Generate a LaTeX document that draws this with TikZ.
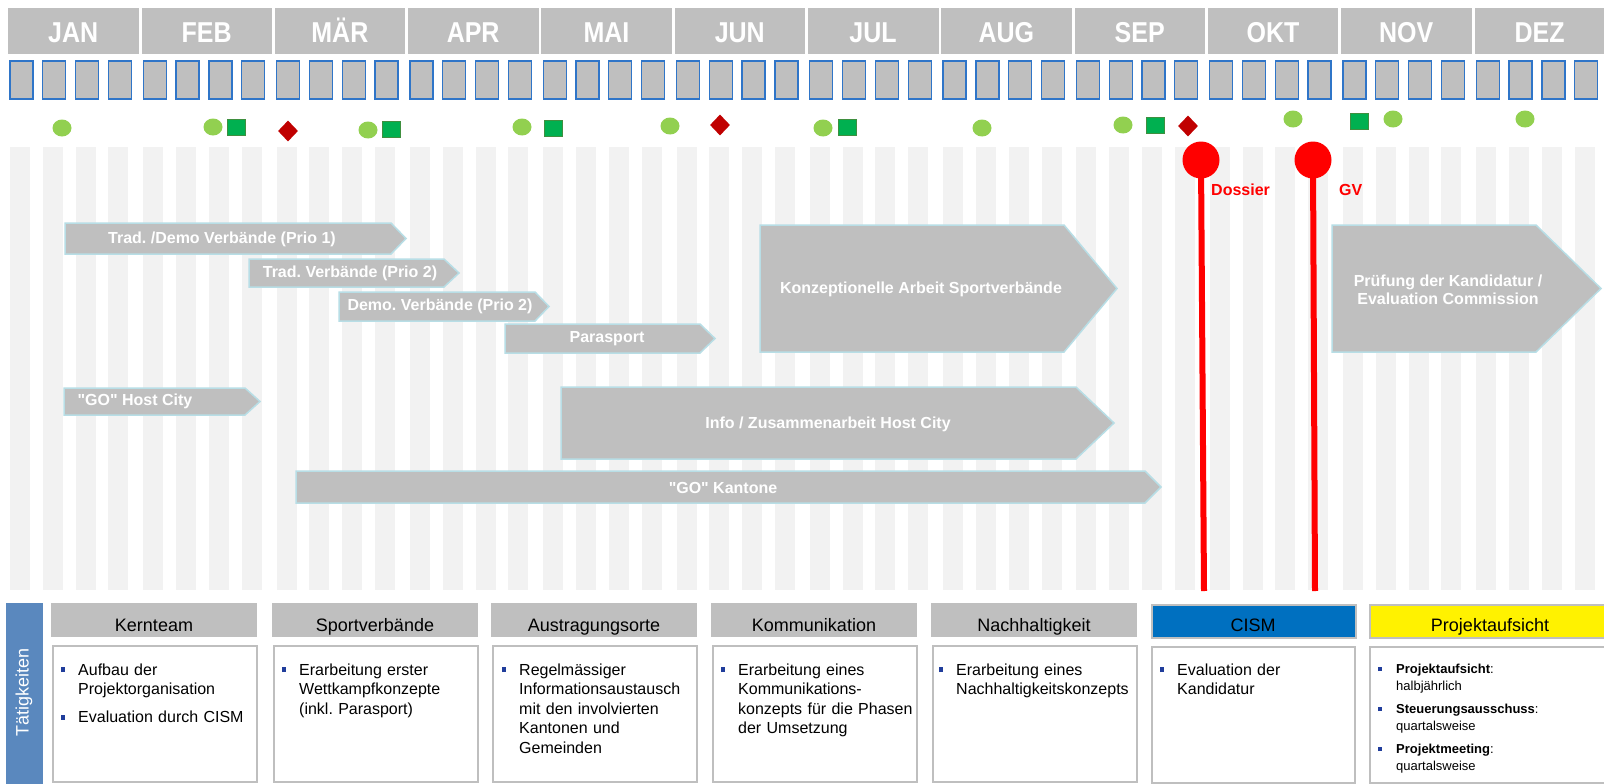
\documentclass[tikz,border=0pt]{standalone}
\usepackage{fontspec}
\setmainfont{Liberation Sans}[Ligatures=TeXOff]
\usepackage{graphicx}
\usetikzlibrary{shapes.geometric}
\frenchspacing
\definecolor{hdrgrey}{HTML}{BFBFBF}
\definecolor{weekblue}{HTML}{2F75C8}
\definecolor{stripegrey}{HTML}{F2F2F2}
\definecolor{barline}{HTML}{B8DEE6}
\definecolor{greenc}{HTML}{92D050}
\definecolor{greens}{HTML}{00B050}
\definecolor{greensd}{HTML}{3F8F3F}
\definecolor{redd}{HTML}{C00000}
\definecolor{pinred}{HTML}{FF0000}
\definecolor{cismblue}{HTML}{0070C0}
\definecolor{tblue}{HTML}{5A88BE}
\definecolor{bulblue}{HTML}{203D9B}
\newcommand{\bl}{\leavevmode\llap{\makebox[17pt][l]{\textcolor{bulblue}{\rule[3pt]{4pt}{5pt}}}}}
\newcommand{\bls}{\leavevmode\llap{\makebox[18pt][l]{\textcolor{bulblue}{\rule[2pt]{3.5pt}{4pt}}}}}
\newcommand{\fstrut}{\rule{0pt}{12pt}}
\newcommand{\ganttbar}[5]{\draw[gbar] (#1,#4) -- (#2,#4) -- (#3,{(#4+#5)/2}) -- (#2,#5) -- (#1,#5) -- cycle;}
\tikzset{
 monthbox/.style={fill=hdrgrey, inner sep=0, minimum height=46, minimum width=130.5, anchor=north west},
 monthtxt/.style={text=white, font=\bfseries\fontsize{25}{25}\selectfont, anchor=base, inner sep=0},
 weekbox/.style={draw=weekblue, fill=hdrgrey, line width=1.3},
 stripe/.style={fill=stripegrey},
 gbar/.style={fill=hdrgrey, draw=barline, line width=1.5},
 bartxt/.style={text=white, font=\bfseries\fontsize{16}{18}\selectfont, inner sep=0, align=center},
 gdot/.style={ellipse, fill=greenc, minimum width=19, minimum height=17, inner sep=0},
 gsq/.style={rectangle, fill=greens, draw=greensd, line width=0.8, minimum width=18, minimum height=16, inner sep=0},
 rdia/.style={diamond, fill=redd, minimum width=20, minimum height=21, inner sep=0},
 pinline/.style={draw=pinred, line width=6},
 pinhead/.style={circle, fill=pinred, minimum size=37, inner sep=0},
 pinlabel/.style={text=pinred, font=\bfseries\fontsize{16}{16}\selectfont, anchor=base west, inner sep=0},
 colhead/.style={fill=hdrgrey, minimum width=206, minimum height=34, anchor=north west, inner sep=0},
 headtxt/.style={font=\fontsize{18}{18}\selectfont, anchor=base, inner sep=0},
 colbody/.style={draw=hdrgrey, line width=2, fill=white, minimum width=204, minimum height=136, anchor=north west, inner sep=0},
 bodytxt/.style={font=\fontsize{16}{19.5}\selectfont, anchor=north west, inner sep=0, text width=200, align=left},
 smalltxt/.style={font=\fontsize{13}{17}\selectfont, anchor=north west, inner sep=0, text width=220, align=left},
}
\begin{document}
\begin{tikzpicture}[x=1pt,y=-1pt]
\useasboundingbox (0,0) rectangle (1604,784);
\fill[white] (0,0) rectangle (1604,784);
% stripes and weeks
\foreach \m in {0,...,11}{
  \foreach \w in {0,...,3}{
    \pgfmathsetmacro\wx{8+\m*133.3+2+\w*32.8}
    \fill[stripe] (\wx,147) rectangle ++(20,443);
    \draw[weekbox] (\wx,61) rectangle ++(23,38);
  }
}
% months
\foreach \m/\nm in {0/JAN,1/FEB,2/MÄR,3/APR,4/MAI,5/JUN,6/JUL,7/AUG,8/SEP,9/OKT,10/NOV,11/DEZ}{
  \pgfmathsetmacro\mx{8+\m*133.3}
  \node[monthbox] (mon\m) at (\mx,8) {};
  \node[monthtxt] (mt\m) at (\mx+65.25,42.7) {\scalebox{1}[1.15]{\nm}};
}
% markers
\node[gdot] (c1) at (62,128) {};
\node[gdot] (c2) at (213,127) {};
\node[gsq] (s1) at (236,127) {};
\node[rdia] (d1) at (288,131) {};
\node[gdot] (c3) at (368,130) {};
\node[gsq] (s2) at (391,129) {};
\node[gdot] (c4) at (522,127) {};
\node[gsq] (s3) at (553,128) {};
\node[gdot] (c5) at (670,126) {};
\node[rdia] (d2) at (720,125) {};
\node[gdot] (c6) at (823,128) {};
\node[gsq] (s4) at (847,127) {};
\node[gdot] (c7) at (982,128) {};
\node[gdot] (c8) at (1123,125) {};
\node[gsq] (s5) at (1155,125) {};
\node[rdia] (d3) at (1188,126) {};
\node[gdot] (c9) at (1293,119) {};
\node[gsq] (s6) at (1359,121) {};
\node[gdot] (c10) at (1393,119) {};
\node[gdot] (c11) at (1525,119) {};
% bars
\ganttbar{65}{391}{406}{223}{254}
\node[bartxt] (b1) at (222,239.5) {Trad. /Demo Verbände (Prio 1)};
\ganttbar{249}{444}{459}{259}{287}
\node[bartxt] (b2) at (350,273.5) {Trad. Verbände (Prio 2)};
\ganttbar{339}{535}{549}{292}{321}
\node[bartxt] (b3) at (440,306.5) {Demo. Verbände (Prio 2)};
\ganttbar{505}{700}{715}{324}{353}
\node[bartxt] (b4) at (607,339) {Parasport};
\ganttbar{760}{1064}{1117}{225}{352}
\node[bartxt] (b5) at (921,289) {Konzeptionelle Arbeit Sportverbände};
\ganttbar{1332}{1536}{1601}{225}{352}
\node[bartxt] (b6) at (1448,290) {Prüfung der Kandidatur /\\Evaluation Commission};
\ganttbar{64}{245}{260}{388}{415}
\node[bartxt] (b7) at (135,401.5) {"GO" Host City};
\ganttbar{561}{1076}{1114}{387}{459}
\node[bartxt] (b8) at (828,424) {Info / Zusammenarbeit Host City};
\ganttbar{296}{1145}{1161}{471}{503}
\node[bartxt] (b9) at (723,488) {"GO" Kantone};
% pins
\coordinate (dtop) at (1201,160);
\coordinate (dbot) at (1204,591);
\draw[pinline] (dtop) -- (dbot);
\node[pinhead] (dossier) at (dtop) {};
\node[pinlabel] (dossierlbl) at (1211,195) {Dossier};
\coordinate (gtop) at (1313,160);
\coordinate (gbot) at (1315,591);
\draw[pinline] (gtop) -- (gbot);
\node[pinhead] (gv) at (gtop) {};
\node[pinlabel] (gvlbl) at (1339,195) {GV};
% bottom section
\node[fill=tblue, minimum width=37, minimum height=182, anchor=north west, inner sep=0] (taetbox) at (6,603) {};
\node[rotate=90, text=white, font=\fontsize{18}{18}\selectfont, inner sep=0] (taet) at (24,692) {Tätigkeiten};
\foreach \i/\cx/\nm in {0/51/Kernteam,1/272/Sportverbände,2/491/Austragungsorte,3/711/Kommunikation,4/931/Nachhaltigkeit}{
  \node[colhead] (h\i) at (\cx,603) {};
  \node[headtxt] (ht\i) at (\cx+103,631) {\nm};
  \node[colbody] (bd\i) at (\cx+1,645) {};
}
\node[colhead, fill=cismblue, draw=hdrgrey, line width=2, minimum width=204, minimum height=33] (h5) at (1151,604) {};
\node[headtxt] (ht5) at (1253,631) {CISM};
\node[colbody, minimum width=203] (bd5) at (1151,646) {};
\node[colhead, fill=yellow, draw=hdrgrey, line width=2, minimum width=260, minimum height=33] (h6) at (1369,604) {};
\node[headtxt] (ht6) at (1490,631) {Projektaufsicht};
\node[colbody, minimum width=260] (bd6) at (1369,646) {};
% body texts
\node[bodytxt] (t0) at (61,663) {\leftskip=17pt \bl\fstrut Aufbau der\\ Projektorganisation\\[8.5pt] \bl Evaluation durch CISM\par};
\node[bodytxt] (t1) at (282,663) {\leftskip=17pt \bl\fstrut Erarbeitung erster\\ Wettkampfkonzepte\\ (inkl. Parasport)\par};
\node[bodytxt] (t2) at (502,663) {\leftskip=17pt \bl\fstrut Regelmässiger\\ Informationsaustausch\\ mit den involvierten\\ Kantonen und\\ Gemeinden\par};
\node[bodytxt] (t3) at (721,663) {\leftskip=17pt \bl\fstrut Erarbeitung eines\\ Kommunikations-\\ konzepts für die Phasen\\ der Umsetzung\par};
\node[bodytxt] (t4) at (939,663) {\leftskip=17pt \bl\fstrut Erarbeitung eines\\ Nachhaltigkeitskonzepts\par};
\node[bodytxt] (t5) at (1160,663) {\leftskip=17pt \bl\fstrut Evaluation der\\ Kandidatur\par};
\node[smalltxt] (t6) at (1378,661) {\leftskip=18pt \bls\fstrut\textbf{Projektaufsicht}:\\ halbjährlich\\[6pt] \bls\textbf{Steuerungsausschuss}:\\ quartalsweise\\[6pt] \bls\textbf{Projektmeeting}:\\ quartalsweise\par};
\end{tikzpicture}
\end{document}
